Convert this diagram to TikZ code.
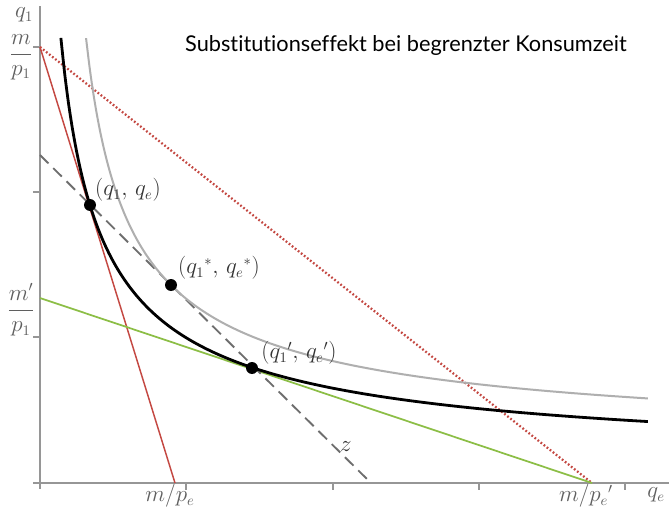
\documentclass[tikz,border=0pt]{standalone}
\usepackage{fontspec}
\newfontfamily\titlefont[Ligatures=NoCommon]{Lato}
\definecolor{axisgray}{RGB}{150,150,150}
\definecolor{labelgray}{RGB}{95,95,95}
\definecolor{budgetred}{RGB}{196,72,66}
\definecolor{budgetgreen}{RGB}{140,190,70}
\definecolor{curvegray}{RGB}{175,175,175}
\definecolor{dashgray}{RGB}{110,110,110}
\begin{document}
\begin{tikzpicture}[x=0.75pt,y=-0.75pt,
  axis/.style={draw=axisgray,line width=1.1pt},
  tickmark/.style={draw=axisgray,line width=1.1pt},
  dot/.style={circle,fill=black,inner sep=0pt,minimum size=9pt},
  lbl/.style={text=labelgray,font=\fontsize{16}{18}\selectfont,inner sep=0pt},
  fraclbl/.style={text=labelgray,font=\fontsize{16}{18}\selectfont,inner sep=0pt},
  ptlbl/.style={text=black!80,font=\fontsize{16}{18}\selectfont,inner sep=0pt}]
\useasboundingbox (0,0) rectangle (669,514);
\fill[white] (0,0) rectangle (669,514);
% axes
\draw[axis] (40,6) -- (40,489);
\draw[axis] (33,483) -- (669,483);
\foreach \yy in {47,192,337} \draw[tickmark] (33,\yy) -- (40,\yy);
\foreach \xx in {186,333,479,625} \draw[tickmark] (\xx,483) -- (\xx,490);
% budget lines
\draw[budgetred,line width=1.1pt] (40,47) -- (175,483);
\draw[budgetred,line width=1.7pt,dash pattern=on 1.3pt off 1.6pt] (40,47) -- (592,483);
\draw[budgetgreen,line width=1.3pt] (40,298) -- (592,483);
\draw[dashgray,line width=1.4pt,dash pattern=on 9pt off 5pt] (40,155) -- (371,483);
% indifference curves
\draw[curvegray,line width=1.5pt] plot[domain=0.3155:4.164,samples=160,smooth]
  ({40+146*\x},{483-146*(0.213+0.9776*pow(\x-0.097,-0.7))});
\draw[black,line width=2.1pt] plot[domain=0.143:4.164,samples=160,smooth]
  ({40+146*\x},{483-146*(0.07+0.961*pow(\x+0.0554,-0.7))});
% points
\node[dot] (A) at (90,205) {};
\node[dot] (B) at (171,285) {};
\node[dot] (C) at (252,368) {};
\node[ptlbl] (Al) at (128,190) {$(q_1,\,q_e)$};
\node[ptlbl] (Bl) at (219,268) {$(q_1{}^{*},\,q_e{}^{*})$};
\node[ptlbl] (Cl) at (299,353) {$(q_1{}^{\prime},\,q_e{}^{\prime})$};
\node[ptlbl] (zl) at (346,447) {$z$};
% axis labels
\node[lbl] (q1) at (24,15) {$q_1$};
\node[fraclbl] (mp1) at (21,57) {$\displaystyle\frac{m}{p_1}$};
\node[fraclbl] (mpp1) at (21,310) {$\displaystyle\frac{m^{\prime}}{p_1}$};
\node[lbl] (mpe) at (170,496) {$m/p_e$};
\node[lbl] (mpep) at (586,496) {$m/p_e{}^{\prime}$};
\node[lbl] (qe) at (656,495) {$q_e$};
% title
\node[font=\titlefont\fontsize{16.3}{19}\selectfont,inner sep=0pt] (title) at (406,45) {Substitutionseffekt bei begrenzter Konsumzeit};
\end{tikzpicture}
\end{document}
